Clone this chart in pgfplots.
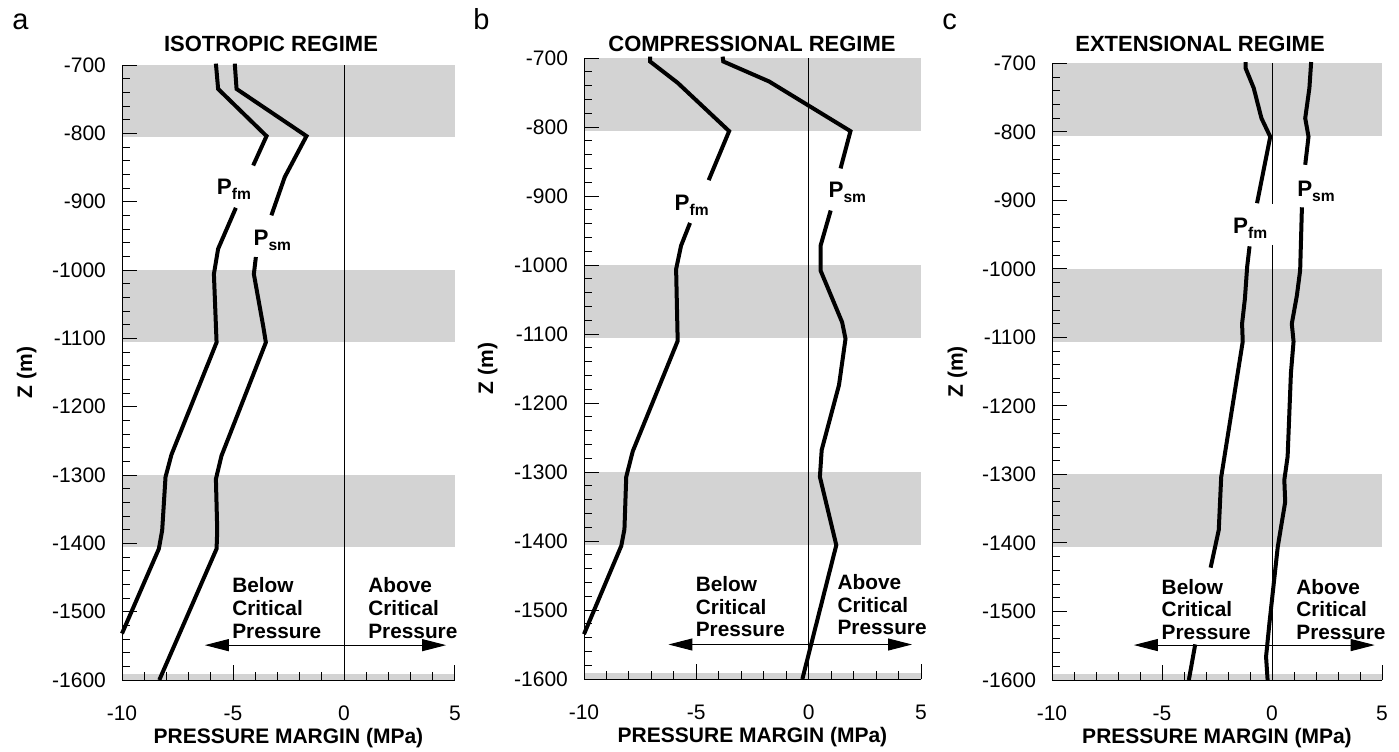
\documentclass[border=0pt]{standalone}
\usepackage{fontspec}
\setmainfont{Liberation Sans}
\usepackage{pgfplots}
\pgfplotsset{compat=1.18}
\usetikzlibrary{arrows.meta}
\definecolor{band}{RGB}{211,211,211}
\newcommand{\sub}[1]{\textbf{P\raisebox{-2.5pt}{\fontsize{7.8}{9}\selectfont #1}}}
\tikzset{
  txt/.style={anchor=north west, inner sep=0pt, align=left, font=\bfseries\fontsize{10.4}{11.3}\selectfont},
  plab/.style={anchor=base west, inner sep=0pt, font=\bfseries\fontsize{11.2}{13}\selectfont},
}
\pgfplotsset{
  panel/.style={
    scale only axis, axis on top,
    xmin=-10, xmax=5, ymin=-1600, ymax=-700,
    axis x line*=bottom, axis y line*=left,
    xtick={-10,-5,0,5}, ytick={-1600,-1500,...,-700},
    minor x tick num=4, minor y tick num=4,
    tick align=inside,
    major tick length=7.5pt, minor tick length=4pt,
    every tick/.style={black, line width=0.5pt},
    axis line style={black, line width=0.5pt},
    clip=false, scaled ticks=false,
    /pgf/number format/assume math mode=true,
    /pgf/number format/1000 sep={},
    ticklabel style={font=\fontsize{10.5}{12}\selectfont},
    yticklabel style={xshift=-4.5pt},
    xticklabel style={yshift=-9.5pt},
    xlabel={PRESSURE MARGIN (MPa)},
    ylabel={Z (m)},
    label style={font=\bfseries\fontsize{10.5}{12}\selectfont},
    xlabel style={at={(axis description cs:0.5,0)}, anchor=base, yshift=-31.65pt},
    ylabel style={at={(axis description cs:-0.27,0.5)}, anchor=base},
  },
  dat/.style={line width=2pt, black},
  bnd/.style={fill=band, draw=none},
  zero/.style={black, line width=0.5pt},
  arr/.style={black, line width=0.5pt, {Triangle[length=12pt,width=6pt]}-{Triangle[length=12pt,width=6pt]}},
}
\newcommand{\bands}{%
  \addplot[bnd] coordinates {(-10,-700) (5,-700) (5,-806) (-10,-806)} -- cycle;
  \addplot[bnd] coordinates {(-10,-1000) (5,-1000) (5,-1106) (-10,-1106)} -- cycle;
  \addplot[bnd] coordinates {(-10,-1300) (5,-1300) (5,-1406) (-10,-1406)} -- cycle;
  \addplot[bnd] coordinates {(-10,-1591) (5,-1591) (5,-1602) (-10,-1602)} -- cycle;
}
\begin{document}
\begin{tikzpicture}
\useasboundingbox (0,0) rectangle (699.5pt,375.5pt);
\node[anchor=base west, inner sep=0pt, font=\fontsize{14.5}{16}\selectfont] at (6pt,360.5pt) {a};
\node[anchor=base west, inner sep=0pt, font=\fontsize{14.5}{16}\selectfont] at (236.5pt,360.5pt) {b};
\node[anchor=base west, inner sep=0pt, font=\fontsize{14.5}{16}\selectfont] at (471pt,360.5pt) {c};
\node[anchor=base, inner sep=0pt, font=\bfseries\fontsize{11}{13}\selectfont] at (135.5pt,349.7pt) {ISOTROPIC REGIME};
\node[anchor=base, inner sep=0pt, font=\bfseries\fontsize{11}{13}\selectfont] at (376pt,349.7pt) {COMPRESSIONAL REGIME};
\node[anchor=base, inner sep=0pt, font=\bfseries\fontsize{11}{13}\selectfont] at (600pt,349.7pt) {EXTENSIONAL REGIME};

% ---------- panel a ----------
\begin{axis}[panel, at={(61pt,35.5pt)}, anchor=south west, width=166.5pt, height=307.5pt]
\bands
\addplot[zero] coordinates {(0,-700) (0,-1600)};
\addplot[dat] coordinates {(-5.77,-698) (-5.67,-735) (-3.49,-804) (-4.09,-847)};
\addplot[dat] coordinates {(-4.87,-909) (-5.67,-969) (-5.86,-1006) (-5.74,-1106) (-7.77,-1270) (-8.04,-1303) (-8.19,-1381) (-8.34,-1408) (-10,-1532)};
\addplot[dat] coordinates {(-4.92,-698) (-4.84,-735) (-1.69,-804) (-2.67,-864) (-3.27,-920)};
\addplot[dat] coordinates {(-3.97,-981) (-4.06,-1006) (-3.64,-1082) (-3.52,-1106) (-5.52,-1272) (-5.77,-1306) (-5.71,-1381) (-5.74,-1408) (-8.32,-1600)};
\addplot[arr] coordinates {(-6.27,-1549) (4.6,-1549)};
\node[plab] at (axis cs:-5.74,-889.7) {\sub{fm}};
\node[plab] at (axis cs:-4.09,-964) {\sub{sm}};
\node[txt] at (axis cs:-5.05,-1450) {Below\\Critical\\Pressure};
\node[txt] at (axis cs:1.08,-1450) {Above\\Critical\\Pressure};
\end{axis}

% ---------- panel b ----------
\begin{axis}[panel, at={(292pt,36pt)}, anchor=south west, width=168.5pt, height=310.5pt]
\bands
\addplot[zero] coordinates {(0,-700) (0,-1600)};
\addplot[dat] coordinates {(-7.06,-698) (-7.06,-705) (-5.83,-736) (-3.54,-806) (-4.45,-877)};
\addplot[dat] coordinates {(-5.28,-939) (-5.68,-972) (-5.90,-1006) (-5.83,-1110) (-7.83,-1270) (-8.12,-1307) (-8.20,-1383) (-8.34,-1407) (-10,-1535)};
\addplot[dat] coordinates {(-3.83,-698) (-3.80,-705) (-1.76,-734) (1.86,-806) (1.42,-860)};
\addplot[dat] coordinates {(0.98,-921) (0.53,-972) (0.53,-1008) (1.49,-1083) (1.64,-1107) (1.35,-1174) (0.58,-1268) (0.50,-1307) (1.23,-1406) (-0.28,-1600)};
\addplot[arr] coordinates {(-6.24,-1550) (4.6,-1550)};
\node[plab] at (axis cs:-5.98,-920.5) {\sub{fm}};
\node[plab] at (axis cs:0.87,-902) {\sub{sm}};
\node[txt] at (axis cs:-5.04,-1451) {Below\\Critical\\Pressure};
\node[txt] at (axis cs:1.27,-1448) {Above\\Critical\\Pressure};
\end{axis}

% ---------- panel c ----------
\begin{axis}[panel, at={(526pt,35.5pt)}, anchor=south west, width=165pt, height=308.3pt]
\bands
\addplot[zero] coordinates {(0,-700) (0,-905)};
\addplot[zero] coordinates {(0,-965) (0,-1600)};
\addplot[dat] coordinates {(-1.20,-698) (-1.20,-707) (-0.83,-736) (-0.48,-780) (-0.08,-807) (-0.68,-904)};
\addplot[dat] coordinates {(-1.02,-967) (-1.13,-997) (-1.23,-1043) (-1.36,-1080) (-1.33,-1106) (-2.31,-1304) (-2.42,-1381) (-2.79,-1436)};
\addplot[dat] coordinates {(-3.49,-1548) (-3.78,-1600)};
\addplot[dat] coordinates {(1.78,-698) (1.70,-736) (1.51,-780) (1.66,-807) (1.51,-848)};
\addplot[dat] coordinates {(1.36,-910) (1.28,-1002) (1.13,-1039) (0.90,-1080) (0.98,-1106) (0.86,-1152) (0.71,-1274) (0.56,-1308) (0.60,-1340) (0.26,-1406) (-0.12,-1518) (-0.27,-1566) (-0.20,-1600)};
\addplot[arr] coordinates {(-6.28,-1549) (4.67,-1549)};
\node[plab] at (axis cs:-1.78,-948) {\sub{fm}};
\node[plab] at (axis cs:1.13,-894.6) {\sub{sm}};
\node[txt] at (axis cs:-5.03,-1452) {Below\\Critical\\Pressure};
\node[txt] at (axis cs:1.09,-1452) {Above\\Critical\\Pressure};
\end{axis}
\end{tikzpicture}
\end{document}
